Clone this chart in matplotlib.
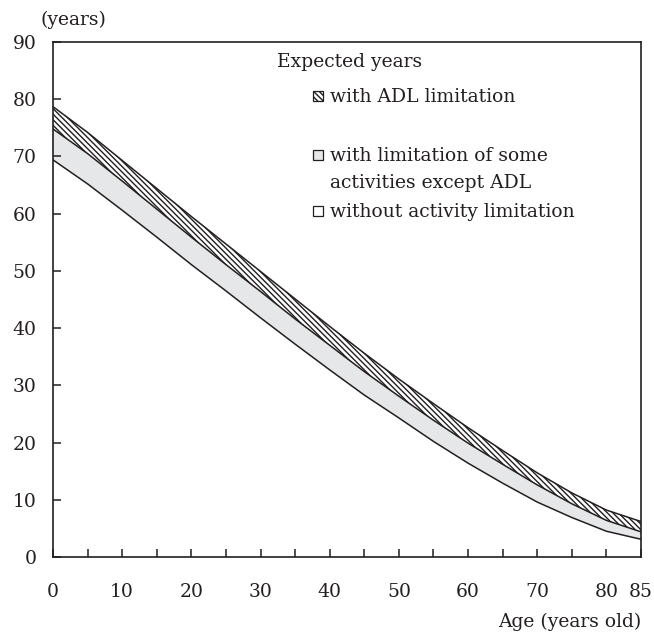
import numpy as np
import matplotlib
matplotlib.use('Agg')
import matplotlib.pyplot as plt
from matplotlib.patches import Rectangle

plt.rcParams['font.family'] = ['DejaVu Serif']
plt.rcParams['hatch.color'] = '#231f20'
plt.rcParams['hatch.linewidth'] = 1.0

# ages and expected years
ages = [0, 5, 10, 15, 20, 25, 30, 35, 40, 45, 50, 55, 60, 65, 70, 75, 80, 85]
without_limit = [69.4, 65.2, 60.6, 55.9, 51.1, 46.5, 41.8, 37.2, 32.7, 28.3, 24.3, 20.2, 16.4, 12.9, 9.6, 6.9, 4.5, 3.1]
some_limit = [5.4, 5.3, 5.1, 4.9, 4.8, 4.6, 4.6, 4.4, 4.3, 4.1, 3.8, 3.7, 3.5, 3.3, 3.0, 2.4, 1.9, 1.3]
adl_limit = [3.9, 3.7, 3.6, 3.6, 3.6, 3.6, 3.5, 3.5, 3.3, 3.2, 3.0, 2.9, 2.7, 2.4, 2.1, 1.9, 1.8, 1.8]

x_ticks = list(range(0, 86, 5))
x_labels = ['0', '', '10', '', '20', '', '30', '', '40', '', '50', '', '60', '', '70', '', '80', '85']
y_ticks = list(range(0, 91, 10))

ink = '#231f20'
grey = '#e6e7e8'
hatch_pat = '\\' * 6

x = np.array(ages)
b1 = np.array(without_limit)
b2 = b1 + np.array(some_limit)
b3 = b2 + np.array(adl_limit)

fig = plt.figure(figsize=(6.54, 6.33), dpi=100)
ax = fig.add_axes([53/654, 1-557/633, 588/654, 515/633])

ax.fill_between(x, 0, b1, facecolor='white', linewidth=0)
ax.fill_between(x, b1, b2, facecolor=grey, linewidth=0)
ax.fill_between(x, b2, b3, facecolor='white', edgecolor=ink, hatch=hatch_pat, linewidth=0)

for line in [b1, b2, b3]:
    ax.plot(x, line, color=ink, lw=1.1)

ax.set_xlim(0, 85)
ax.set_ylim(0, 90)
ax.set_xticks(x_ticks)
ax.set_xticklabels(x_labels)
ax.set_yticks(y_ticks)
ax.tick_params(axis='x', direction='in', length=6, width=1.1, color=ink, pad=19, labelsize=13.5, labelcolor=ink)
ax.tick_params(axis='y', direction='in', length=6, width=1.1, color=ink, pad=12, labelsize=13.5, labelcolor=ink)
for s in ax.spines.values():
    s.set_linewidth(1.2)
    s.set_color(ink)

# legend drawn by hand
def fx(px):
    return (px - 53) / 588

def fy(py):
    return (557 - py) / 515

fs = 13.5
ax.text(fx(277), fy(62), 'Expected years', fontsize=fs, color=ink, va='center', ha='left', transform=ax.transAxes)
boxes = [(96, 'hatch'), (155, 'grey'), (211, 'white')]
w = 10 / 588
h = 10 / 515
for py, kind in boxes:
    if kind == 'hatch':
        r = Rectangle((fx(313), fy(py) - h/2), w, h, transform=ax.transAxes, facecolor='white',
                      edgecolor=ink, hatch=hatch_pat, lw=0.9)
    elif kind == 'grey':
        r = Rectangle((fx(313), fy(py) - h/2), w, h, transform=ax.transAxes, facecolor=grey, edgecolor=ink, lw=0.9)
    else:
        r = Rectangle((fx(313), fy(py) - h/2), w, h, transform=ax.transAxes, facecolor='white', edgecolor=ink, lw=0.9)
    ax.add_patch(r)
texts = [(97, 'with ADL limitation'), (156, 'with limitation of some'),
         (183, 'activities except ADL'), (212, 'without activity limitation')]
for py, t in texts:
    ax.text(fx(330), fy(py), t, fontsize=fs, color=ink, va='center', ha='left', transform=ax.transAxes)

fig.text(73/654, 1-20/633, '(years)', fontsize=fs, color=ink, ha='center', va='center')
fig.text(641/654, 1-622/633, 'Age (years old)', fontsize=fs, color=ink, ha='right', va='center')

plt.savefig('out.png', dpi=100)
